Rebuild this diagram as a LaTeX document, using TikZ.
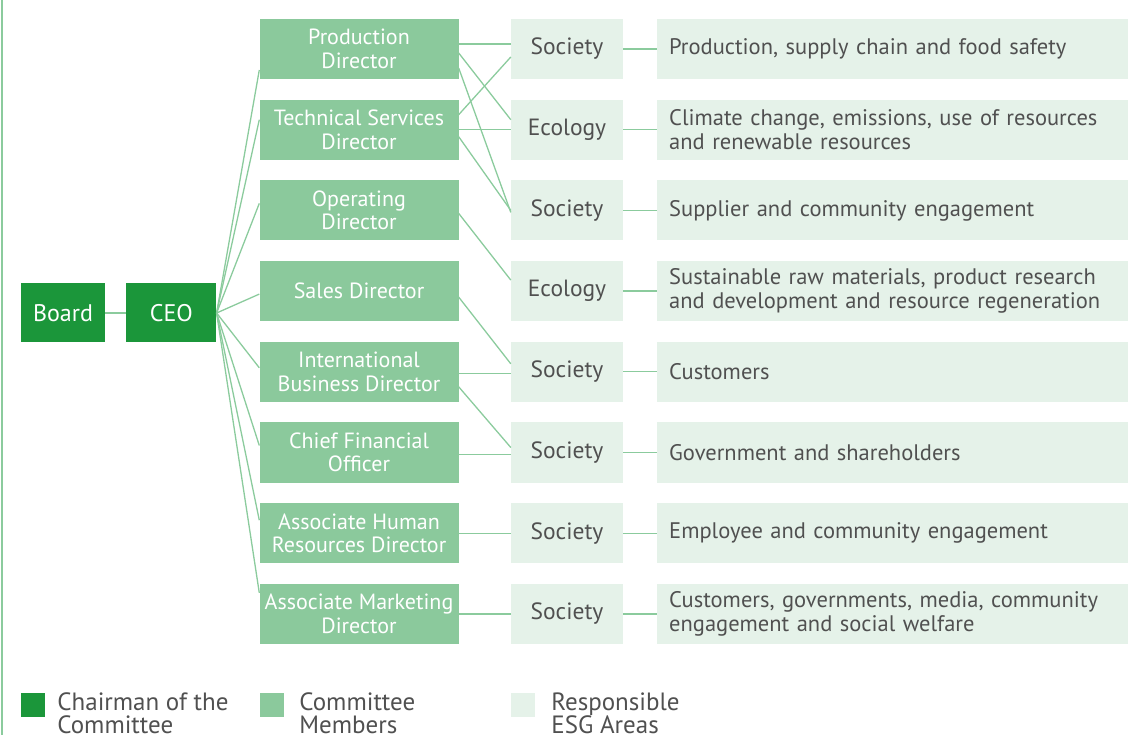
\documentclass[tikz,border=0pt]{standalone}
\usepackage{fontspec}
\setmainfont{PT Sans}
\usetikzlibrary{positioning}
\definecolor{chairgreen}{RGB}{27,150,58}
\definecolor{membergreen}{RGB}{139,201,156}
\definecolor{areagreen}{RGB}{229,242,233}
\definecolor{linkgreen}{RGB}{139,203,157}
\definecolor{textgray}{RGB}{80,80,80}

\begin{document}
\begin{tikzpicture}[x=1pt,y=-1pt]
  \tikzstyle{chair} = [fill=chairgreen,text=white,minimum height=59pt,inner sep=0pt,font=\fontsize{24}{28}\selectfont]
  \tikzstyle{member} = [fill=membergreen,text=white,minimum width=199pt,minimum height=60pt,inner sep=0pt,align=center,font=\fontsize{22}{23.5}\selectfont]
  \tikzstyle{area} = [fill=areagreen,text=textgray,minimum width=112pt,minimum height=60pt,inner sep=0pt,font=\fontsize{23.5}{24}\selectfont]
  \tikzstyle{esg} = [fill=areagreen,text=textgray,minimum height=60pt,inner xsep=12pt,inner ysep=0pt,text width=447pt,align=left,font=\fontsize{22.5}{24}\selectfont]
  \tikzstyle{link} = [draw=linkgreen,line width=1.3pt]
  \tikzstyle{key} = [minimum size=24pt,inner sep=0pt]
  \tikzstyle{keytext} = [text=textgray,anchor=north west,inner sep=0pt,align=left,font=\fontsize{25}{23}\selectfont]

  \useasboundingbox (0,0) rectangle (1128,735);
  \draw[linkgreen,line width=1.5pt] (2,0) -- (2,735);

  \node[chair,minimum width=84pt](board) at (63,313) {Board};
  \node[chair,minimum width=90pt,right=21pt of board](ceo) {CEO};

  % committee members
  \foreach \t [count=\i] in {{Production\\Director},{Technical Services\\Director},
      {Operating\\Director},{Sales Director},{International\\Business Director},
      {Chief Financial\\Officer},{Associate Human\\Resources Director},
      {Associate Marketing\\Director}} {
    \node[member](p\i) at (359,{49+80.7*(\i-1)}) {\t};
  }

  % responsible areas
  \foreach \a/\e [count=\i] in {Society/{Production, supply chain and food safety},
      Ecology/{Climate change, emissions, use of resources\\and renewable resources},
      Society/{Supplier and community engagement},
      Ecology/{Sustainable raw materials, product research\\and development and resource regeneration},
      Society/{Customers},
      Society/{Government and shareholders},
      Society/{Employee and community engagement},
      Society/{Customers, governments, media, community\\engagement and social welfare}} {
    \node[area](a\i) at (567,{49+80.7*(\i-1)}) {\a};
    \node[esg,anchor=west](e\i) at (657,{49+80.7*(\i-1)}) {\e};
    \draw[link] (a\i) -- (e\i);
  }

  \draw[link] (board) -- (ceo);
  \foreach \d/\dy in {p1/-21,p2/10,p3/7,p4/-3,p5/4,p6/7,p7/13,p8/21}
    \draw[link] (ceo.east) -- ([yshift=\dy pt]\d.west);

  \foreach \s/\sy/\t/\ty in {p1/5/a1/5,p1/-4/a2/10,p1/-19/a3/-2,p2/15/a1/-8,
      p2/0/a2/0,p2/-7/a3/0,p3/-3/a4/11,p4/-6/a5/8,p5/-2/a5/-2,p5/-15/a6/5,
      p6/-2/a6/-2,p7/0/a7/0,p8/0/a8/0}
    \draw[link] ([yshift=\sy pt]\s.east) -- ([yshift=\ty pt]\t.west);

  % legend
  \node[key,fill=chairgreen](k1) at (33,705) {};
  \node[key,fill=membergreen](k2) at (272,705) {};
  \node[key,fill=areagreen](k3) at (523,705) {};
  \node[keytext](l1) at ([xshift=12pt]k1.north east) {Chairman of the\\Committee};
  \node[keytext](l2) at ([xshift=15pt]k2.north east) {Committee\\Members};
  \node[keytext](l3) at ([xshift=16pt]k3.north east) {Responsible\\ESG Areas};
\end{tikzpicture}
\end{document}
